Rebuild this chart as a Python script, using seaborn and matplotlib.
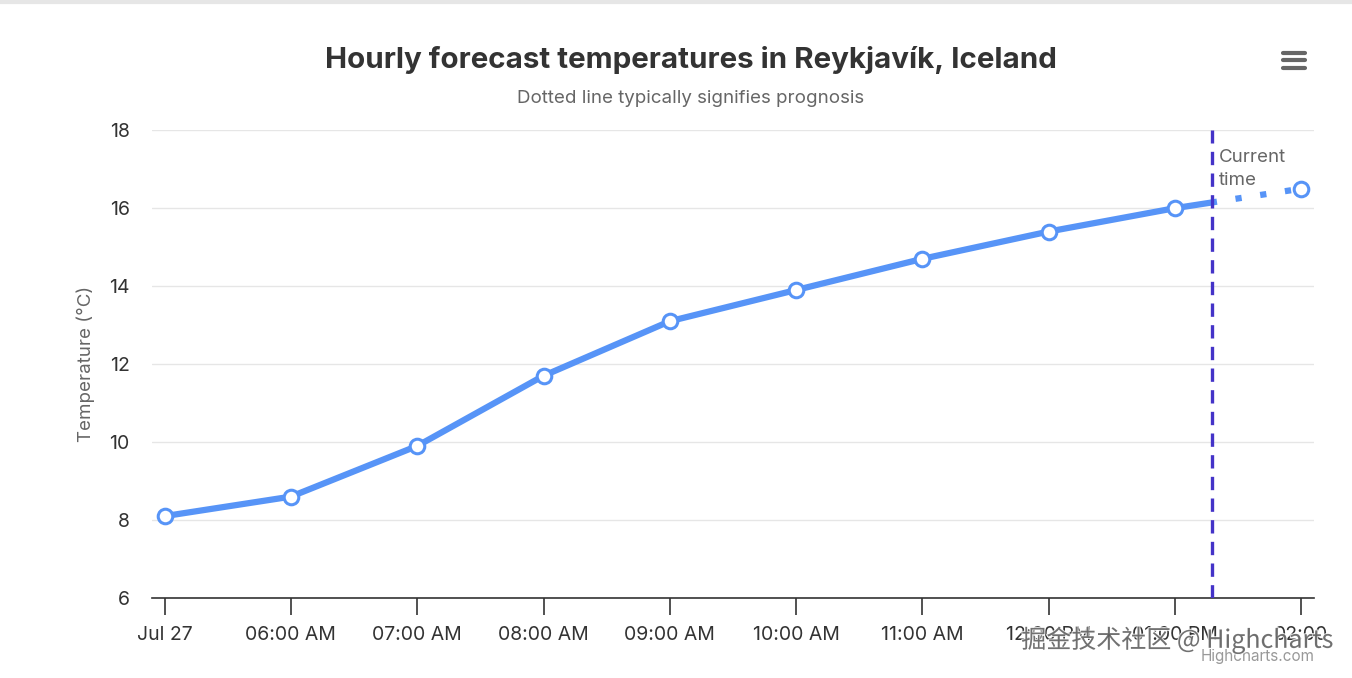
import matplotlib
matplotlib.use("Agg")
import matplotlib.pyplot as plt
import matplotlib.patheffects as pe
from matplotlib.patches import Rectangle
import seaborn as sns
import pandas as pd

# hourly forecast, Jul 27 (hour of day)
hours = [5, 6, 7, 8, 9, 10, 11, 12, 13, 14]
temps = [8.1, 8.6, 9.9, 11.7, 13.1, 13.9, 14.7, 15.4, 16.0, 16.5]
tick_labels = ["Jul 27", "06:00 AM", "07:00 AM", "08:00 AM", "09:00 AM",
               "10:00 AM", "11:00 AM", "12:00 PM", "01:00 PM", "02:00"]
current_time = 13.29  # ~13:17

df = pd.DataFrame({"hour": hours, "temp": temps})

sns.set_theme(style="white")
plt.rcParams["font.family"] = ["Inter", "DejaVu Sans"]

line_col = "#5794f7"
fig = plt.figure(figsize=(13.52, 6.78), dpi=100)
ax = fig.add_axes([0.1124, 0.118, 0.8595, 0.690])

# solid part (before now) and dotted part (prognosis)
sns.lineplot(data=df, x="hour", y="temp", ax=ax, color=line_col, linewidth=4.5,
             solid_capstyle="butt")
sns.lineplot(data=df, x="hour", y="temp", ax=ax, color=line_col, linewidth=4.5,
             linestyle=(0, (1, 3)), dash_capstyle="butt")
solid, dotted = ax.lines[0], ax.lines[1]
solid.set_clip_path(Rectangle((0, 0), current_time, 30, transform=ax.transData))
dotted.set_clip_path(Rectangle((current_time, 0), 10, 30, transform=ax.transData))

sns.scatterplot(data=df, x="hour", y="temp", ax=ax, s=110, color="white",
                edgecolor=line_col, linewidth=2.2, zorder=5)

ax.axvline(current_time, color="#4433c8", linestyle=(0, (4, 2.5)), linewidth=2.4, zorder=4)
ax.text(current_time + 0.06, 17.52, "Current\ntime", color="#666666", fontsize=13.5,
        va="top", ha="left", linespacing=1.45)

ax.set_xlim(4.9, 14.1)
ax.set_ylim(6, 18)
ax.set_yticks([6, 8, 10, 12, 14, 16, 18])
ax.set_xticks(hours)
ax.set_xticklabels(tick_labels)
ax.grid(axis="y", color="#e6e6e6", linewidth=1)
ax.set_axisbelow(True)
for s in ["left", "right", "top"]:
    ax.spines[s].set_visible(False)
ax.spines["bottom"].set_color("#333333")
ax.spines["bottom"].set_linewidth(1.2)
ax.tick_params(axis="x", bottom=True, length=12, width=1.2, color="#333333",
               labelsize=14, labelcolor="#333333", pad=8)
ax.tick_params(axis="y", left=False, length=0, labelsize=14, labelcolor="#333333", pad=16)
ax.set_xlabel("")
ax.set_ylabel("Temperature (°C)", color="#666666", fontsize=13.5, labelpad=10)

fig.text(0.511, 0.911, "Hourly forecast temperatures in Reykjavík, Iceland",
         ha="center", va="center", fontsize=21.3, fontweight="bold", color="#333333")
fig.text(0.511, 0.855, "Dotted line typically signifies prognosis",
         ha="center", va="center", fontsize=13.5, color="#666666")

# hamburger menu
for yy in [0.922, 0.911, 0.900]:
    fig.add_artist(plt.Line2D([0.949, 0.965], [yy, yy], color="#666666",
                              linewidth=3, solid_capstyle="round"))

# top border
fig.add_artist(plt.Line2D([0, 1], [0.997, 0.997], color="#e6e6e6", linewidth=3))

fig.text(0.972, 0.031, "Highcharts.com", ha="right", va="center", fontsize=11,
         color="#999999")
# site watermark, semi transparent so the tick labels show through
fig.text(0.986, 0.056, "掘金技术社区 @ Highcharts", ha="right", va="center",
         fontsize=18, color="#555555", alpha=0.8,
         family=["Noto Sans CJK SC", "DejaVu Sans"],
         path_effects=[pe.withStroke(linewidth=1.5, foreground="white", alpha=0.8)])

fig.savefig("out.png", dpi=100, facecolor="white")
